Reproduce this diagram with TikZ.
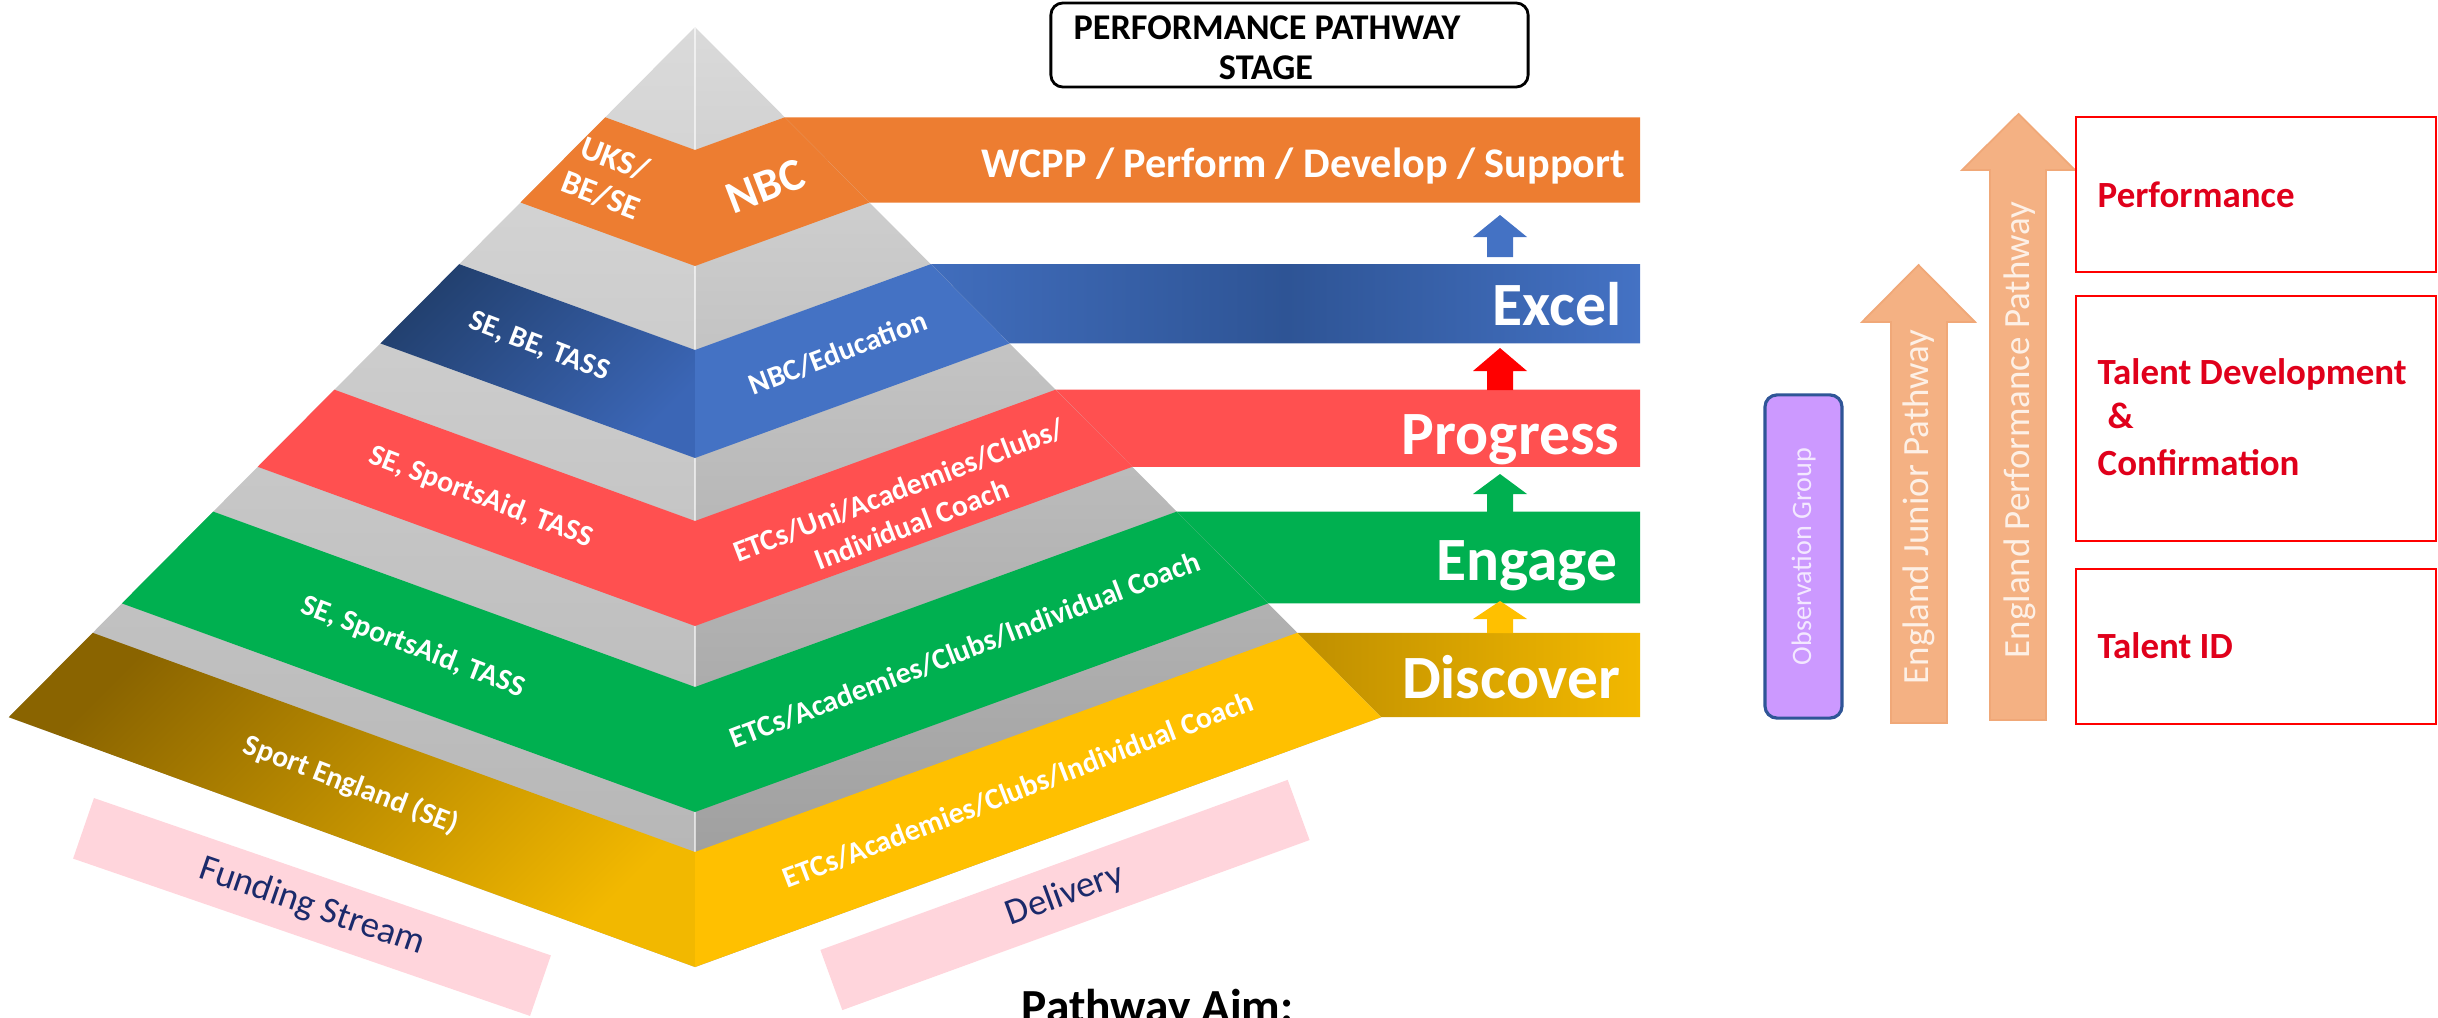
\documentclass[tikz,border=0pt]{standalone}
\usepackage{fontspec}
\setmainfont{Carlito}
\definecolor{nbcorange}{HTML}{ED7D31}
\definecolor{excelblue}{HTML}{4472C4}
\definecolor{exceldark}{HTML}{2E5495}
\definecolor{navyface}{HTML}{22406F}
\definecolor{navylight}{HTML}{3B66B6}
\definecolor{progred}{HTML}{FF5050}
\definecolor{engagegreen}{HTML}{00B050}
\definecolor{discyellow}{HTML}{FFC000}
\definecolor{discdark}{HTML}{BF8F00}
\definecolor{golddark}{HTML}{8A6400}
\definecolor{goldlight}{HTML}{F2B800}
\definecolor{pyrtop}{HTML}{DADADA}
\definecolor{pyrleft}{HTML}{B2B2B2}
\definecolor{pyrbot}{HTML}{989898}
\definecolor{pinkfill}{HTML}{FFD5DC}
\definecolor{navytxt}{HTML}{1B2A6B}
\definecolor{peach}{HTML}{F4B183}
\definecolor{peachedge}{HTML}{F0A878}
\definecolor{peachtxt}{HTML}{FDF0E6}
\definecolor{lilac}{HTML}{CC99FF}
\definecolor{lilacedge}{HTML}{2F5597}
\definecolor{lilactxt}{HTML}{F3E8FF}
\definecolor{boxred}{HTML}{FF0000}
\definecolor{txtred}{HTML}{E0001B}
\definecolor{arrowred}{HTML}{FF0000}

\begin{document}
\begin{tikzpicture}[x=0.01cm, y=0.01cm]
\tikzstyle{every node}+=[inner sep=0pt]
\tikzstyle{layertxt}=[text=white, font=\bfseries\fontsize{8.5}{10.5}\selectfont]
\tikzstyle{stagetxt}=[text=white, anchor=base east, font=\bfseries\fontsize{17.5}{20}\selectfont]
\tikzstyle{levelbox}=[draw=boxred, line width=0.6pt, minimum width=3.6cm]
\tikzstyle{leveltxt}=[text=txtred, anchor=base west, font=\bfseries\fontsize{10.5}{12}\selectfont]
\tikzstyle{pinkband}=[fill=pinkfill, text=navytxt, minimum height=0.64cm, font=\fontsize{10.5}{12}\selectfont]
\tikzstyle{pathtxt}=[text=peachtxt, rotate=90, font=\fontsize{10.5}{12}\selectfont]
\tikzstyle{bigarrow}=[fill=peach, draw=peachedge, line width=0.5pt]
\useasboundingbox (0,0) rectangle (2438,-1018);
\clip (0,0) rectangle (2438,-1018);
\fill [nbcorange] (784.8,-117.3) -- (1640,-117.3) -- (1640,-202.5) -- (869.5,-202.5) -- cycle;
\shade [left color=excelblue!85!exceldark, right color=excelblue, middle color=exceldark] (930.8,-264.2) -- (1640,-264.2) -- (1640,-343.4) -- (1009.6,-343.4) -- cycle;
\fill [progred] (1055.6,-389.7) -- (1640,-389.7) -- (1640,-466.8) -- (1132.3,-466.8) -- cycle;
\fill [engagegreen] (1176.8,-511.6) -- (1640,-511.6) -- (1640,-603.4) -- (1268.1,-603.4) -- cycle;
\shade [left color=discdark, right color=goldlight] (1297.3,-632.8) -- (1640,-632.8) -- (1640,-717.2) -- (1381.2,-717.2) -- cycle;
\shade [top color=pyrtop, bottom color=pyrleft] (695,-27) -- (8.8,-717.2) -- (695,-967) -- cycle;
\shade [top color=pyrtop, bottom color=pyrbot] (695,-27) -- (695,-967) -- (1381.2,-717.2) -- cycle;
\draw [white, opacity=0.6, line width=0.3pt] (695,-27) -- (695,-967);
\fill [nbcorange] (605.2,-117.3) -- (695,-150) -- (784.8,-117.3) -- (869.5,-202.5) -- (695,-266) -- (520.5,-202.5) -- cycle;
\shade [top color=navyface, bottom color=navylight, shading angle=45] (459.2,-264.2) -- (695,-350) -- (695,-458) -- (380.4,-343.4) -- cycle;
\fill [excelblue] (695,-350) -- (930.8,-264.2) -- (1009.6,-343.4) -- (695,-458) -- cycle;
\fill [progred] (334.4,-389.7) -- (695,-521) -- (1055.6,-389.7) -- (1132.3,-466.8) -- (695,-626) -- (257.7,-466.8) -- cycle;
\fill [engagegreen] (213.2,-511.6) -- (695,-687) -- (1176.8,-511.6) -- (1268.1,-603.4) -- (695,-812) -- (121.9,-603.4) -- cycle;
\shade [top color=golddark, bottom color=goldlight, shading angle=45] (92.7,-632.8) -- (695,-852) -- (695,-967) -- (8.8,-717.2) -- cycle;
\fill [discyellow] (695,-852) -- (1297.3,-632.8) -- (1381.2,-717.2) -- (695,-967) -- cycle;
\node [layertxt, rotate=-21, align=center, font=\bfseries\fontsize{9.5}{11}\selectfont] (uks) at (608,-177) {UKS/\\BE/SE};
\node [layertxt, rotate=21, font=\bfseries\fontsize{13}{15}\selectfont] (nbc) at (765,-186) {NBC};
\node [layertxt, rotate=-21] (sebe) at (539,-347) {SE, BE, TASS};
\node [layertxt, rotate=21] (nbcedu) at (838,-353) {NBC/Education};
\node [layertxt, rotate=-21] (redfund) at (481,-497) {SE, SportsAid, TASS};
\node [layertxt, rotate=21, align=center] (reddel) at (905,-507) {ETCs/Uni/Academies/Clubs/\\Individual Coach};
\node [layertxt, rotate=-21] (greenfund) at (413,-647) {SE, SportsAid, TASS};
\node [layertxt, rotate=21] (greendel) at (965,-650) {ETCs/Academies/Clubs/Individual Coach};
\node [layertxt, rotate=-21] (goldfund) at (351,-785) {Sport England (SE)};
\node [layertxt, rotate=21] (golddel) at (1018,-790) {ETCs/Academies/Clubs/Individual Coach};
\node [stagetxt, font=\bfseries\fontsize{12}{14}\selectfont] (wcpp) at (1626,-177) {WCPP / Perform / Develop / Support};
\node [stagetxt] (excel) at (1622,-325) {Excel};
\node [stagetxt] (progress) at (1620,-454) {Progress};
\node [stagetxt] (engage) at (1618,-580) {Engage};
\node [stagetxt] (discover) at (1621,-698) {Discover};
\fill [excelblue] (1487,-257) -- (1487,-237) -- (1473,-237) -- (1500,-215) -- (1527,-237) -- (1513,-237) -- (1513,-257) -- cycle;
\fill [arrowred] (1487,-390) -- (1487,-371) -- (1473,-371) -- (1500,-348) -- (1527,-371) -- (1513,-371) -- (1513,-390) -- cycle;
\fill [engagegreen] (1487,-512) -- (1487,-494) -- (1473,-494) -- (1500,-474) -- (1527,-494) -- (1513,-494) -- (1513,-512) -- cycle;
\fill [discyellow] (1487,-633) -- (1487,-619) -- (1473,-619) -- (1500,-601) -- (1527,-619) -- (1513,-619) -- (1513,-633) -- cycle;
\node [draw=black, line width=0.8pt, fill=white, rounded corners=0.12cm, minimum width=4.77cm, minimum height=0.84cm] (stagebox) at (1289.5,-45) {};
\node [anchor=base, font=\bfseries\fontsize{10.3}{12}\selectfont] (ttlone) at (1267,-40) {PERFORMANCE PATHWAY};
\node [anchor=base, font=\bfseries\fontsize{10.3}{12}\selectfont] (ttltwo) at (1266,-80) {STAGE};
\node [pinkband, minimum width=4.83cm, rotate=-19] (funding) at (312,-907) {Funding Stream};
\node [pinkband, minimum width=4.97cm, rotate=20] (delivery) at (1065,-895) {Delivery};
\node [anchor=base west, font=\bfseries\fontsize{13.5}{16}\selectfont] (aim) at (1021,-1022) {Pathway Aim:};
\node [fill=lilac, draw=lilacedge, line width=0.9pt, rounded corners=0.12cm, minimum width=3.23cm, minimum height=0.77cm, rotate=90, text=lilactxt, font=\fontsize{8}{10}\selectfont] (obs) at (1803.5,-556.5) {Observation Group};
\filldraw [bigarrow] (1891,-723) -- (1891,-322) -- (1862,-322) -- (1918.5,-265) -- (1975,-322) -- (1947,-322) -- (1947,-723) -- cycle;
\node [pathtxt] (junior) at (1919,-507) {England Junior Pathway};
\filldraw [bigarrow] (1990,-720) -- (1990,-170) -- (1962,-170) -- (2018.5,-114) -- (2075,-170) -- (2046,-170) -- (2046,-720) -- cycle;
\node [pathtxt] (perfpath) at (2020,-430) {England Performance Pathway};
\node [levelbox, minimum height=1.55cm] (perfbox) at (2256,-194.5) {};
\node [levelbox, minimum height=2.45cm] (devbox) at (2256,-418.5) {};
\node [levelbox, minimum height=1.55cm] (idbox) at (2256,-646.5) {};
\node [leveltxt] (perftxt) at (2097,-207) {Performance};
\node [leveltxt] (devtxt) at (2097,-384) {Talent Development};
\node [leveltxt] (amptxt) at (2107,-428) {\&};
\node [leveltxt] (conftxt) at (2097,-475) {Confirmation};
\node [leveltxt] (idtxt) at (2097,-658) {Talent ID};
\end{tikzpicture}
\end{document}
